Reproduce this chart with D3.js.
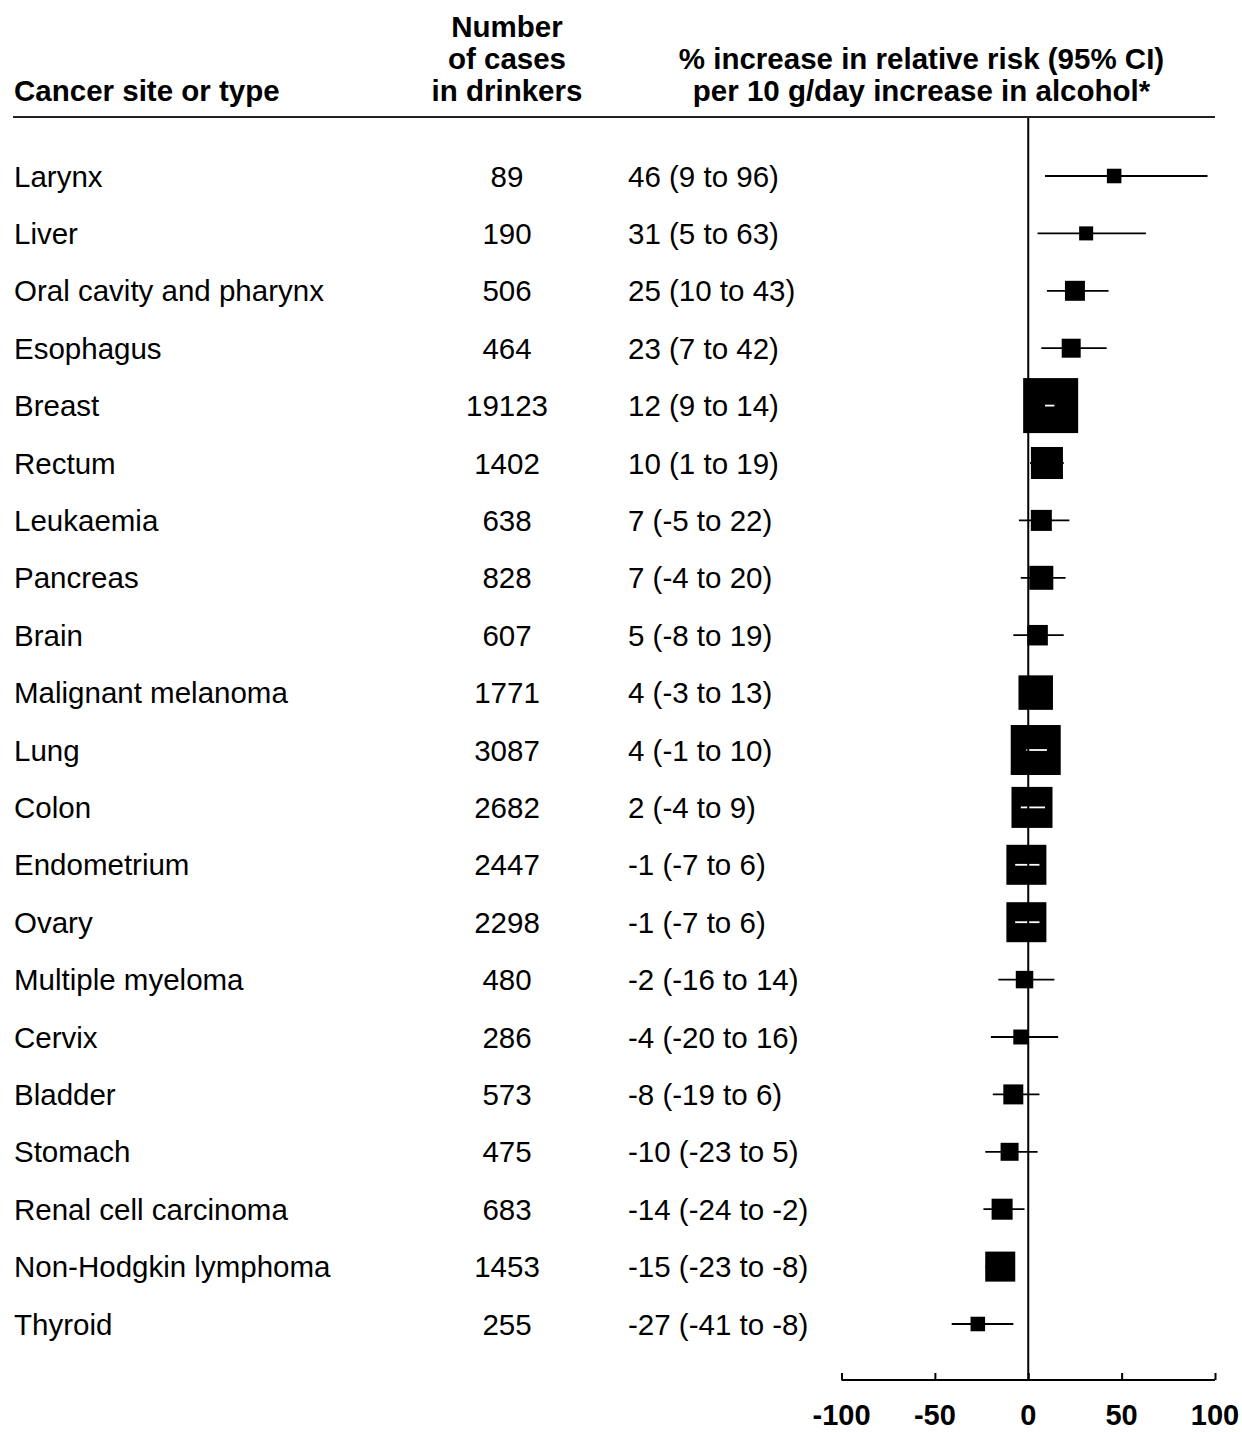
<!DOCTYPE html>
<html>
<head>
<meta charset="utf-8">
<script src="https://cdn.jsdelivr.net/npm/d3@7"></script>
<style>
  html, body { margin: 0; padding: 0; background: #fff; }
  svg { display: block; font-family: "Liberation Sans", Arial, Helvetica, sans-serif; }
</style>
</head>
<body>
<svg id="chart" width="1242" height="1432"></svg>
<script>
// Alcohol intake and site-specific cancer risk: % change in relative risk per 10 g/day
const sites = [
  "Larynx", "Liver", "Oral cavity and pharynx", "Esophagus", "Breast", "Rectum",
  "Leukaemia", "Pancreas", "Brain", "Malignant melanoma", "Lung", "Colon",
  "Endometrium", "Ovary", "Multiple myeloma", "Cervix", "Bladder", "Stomach",
  "Renal cell carcinoma", "Non-Hodgkin lymphoma", "Thyroid"
];
const cases = [89, 190, 506, 464, 19123, 1402, 638, 828, 607, 1771, 3087, 2682,
  2447, 2298, 480, 286, 573, 475, 683, 1453, 255];
const estimate = [46, 31, 25, 23, 12, 10, 7, 7, 5, 4, 4, 2, -1, -1, -2, -4, -8, -10, -14, -15, -27];
const ciLow = [9, 5, 10, 7, 9, 1, -5, -4, -8, -3, -1, -4, -7, -7, -16, -20, -19, -23, -24, -23, -41];
const ciHigh = [96, 63, 43, 42, 14, 19, 22, 20, 19, 13, 10, 9, 6, 6, 14, 16, 6, 5, -2, -8, -8];
// relative weight of each estimate (drives box area)
const weight = [7.0, 6.5, 13.2, 11.9, 100, 33.9, 14.6, 19.0, 13.9, 39.3, 82.6, 55.6,
  52.9, 52.9, 10.1, 7.4, 13.2, 10.7, 14.6, 29.8, 7.0];
const xTicks = [-100, -50, 0, 50, 100];

const rows = sites.map((s, i) => ({
  site: s, n: cases[i], est: estimate[i], lo: ciLow[i], hi: ciHigh[i], w: weight[i]
}));

const svg = d3.select("#chart");
const FS = 29.5;

const x = d3.scaleLinear().domain([-100, 100]).range([841.5, 1215]);
const y = d3.scalePoint().domain(sites).range([176, 1324]);
const side = d3.scaleSqrt().domain([0, 100]).range([0, 55]);

const colSite = 14, colN = 507, colEst = 628;
const headerRule = 117, axisY = 1380;

// column headings
const head = svg.append("g").attr("font-weight", "bold").attr("font-size", FS).attr("fill", "#000");
head.append("text").attr("x", colSite).attr("y", 101).text("Cancer site or type");
const nHead = head.append("text").attr("text-anchor", "middle");
["Number", "of cases", "in drinkers"].forEach((t, i) =>
  nHead.append("tspan").attr("x", colN).attr("y", 37 + i * 32).text(t));
const eHead = head.append("text").attr("text-anchor", "middle");
["% increase in relative risk (95% CI)", "per 10 g/day increase in alcohol*"].forEach((t, i) =>
  eHead.append("tspan").attr("x", 921.5).attr("y", 69 + i * 32).text(t));

svg.append("line")
  .attr("x1", 13).attr("x2", 1215).attr("y1", headerRule).attr("y2", headerRule)
  .attr("stroke", "#222").attr("stroke-width", 2.2);

// table columns
const body = svg.append("g").attr("font-size", FS).attr("fill", "#000");
body.selectAll(".site").data(rows).join("text")
  .attr("x", colSite).attr("y", d => y(d.site) + 10.5).text(d => d.site);
body.selectAll(".n").data(rows).join("text")
  .attr("x", colN).attr("y", d => y(d.site) + 10.5).attr("text-anchor", "middle").text(d => d.n);
body.selectAll(".est").data(rows).join("text")
  .attr("x", colEst).attr("y", d => y(d.site) + 10.5)
  .text(d => `${d.est} (${d.lo} to ${d.hi})`);

// forest plot marks
const marks = svg.append("g");
marks.selectAll(".ci").data(rows).join("line")
  .attr("x1", d => x(d.lo)).attr("x2", d => x(d.hi))
  .attr("y1", d => y(d.site)).attr("y2", d => y(d.site))
  .attr("stroke", "#000").attr("stroke-width", 1.8);
marks.selectAll(".box").data(rows).join("rect")
  .attr("x", d => x(d.est) - side(d.w) / 2)
  .attr("y", d => y(d.site) - side(d.w) / 2)
  .attr("width", d => side(d.w)).attr("height", d => side(d.w))
  .attr("fill", "#000");
// interval drawn in white where it lies wholly inside its box
const inside = rows.filter(d => {
  const half = side(d.w) / 2;
  return x(d.lo) >= x(d.est) - half + 1.5 && x(d.hi) <= x(d.est) + half - 1.5;
});
marks.selectAll(".ciIn").data(inside).join("line")
  .attr("x1", d => x(d.lo)).attr("x2", d => x(d.hi))
  .attr("y1", d => y(d.site)).attr("y2", d => y(d.site))
  .attr("stroke", "#fff").attr("stroke-width", 1.8);

// null line
svg.append("line")
  .attr("x1", x(0)).attr("x2", x(0)).attr("y1", headerRule + 1).attr("y2", axisY)
  .attr("stroke", "#000").attr("stroke-width", 2);

// x axis
const axis = svg.append("g").attr("transform", `translate(0,${axisY})`)
  .call(d3.axisTop(x).tickValues(xTicks).tickSize(7).tickFormat(""));
axis.select(".domain").remove();
axis.selectAll(".tick line").attr("stroke", "#000").attr("stroke-width", 2);
axis.append("line").attr("x1", x(-100)).attr("x2", x(100)).attr("y1", 0).attr("y2", 0)
  .attr("stroke", "#000").attr("stroke-width", 2);
svg.append("g").attr("font-size", 29).attr("font-weight", "bold")
  .selectAll("text").data(xTicks).join("text")
  .attr("x", d => x(d)).attr("y", 1425).attr("text-anchor", "middle").text(d => d);
</script>
</body>
</html>
